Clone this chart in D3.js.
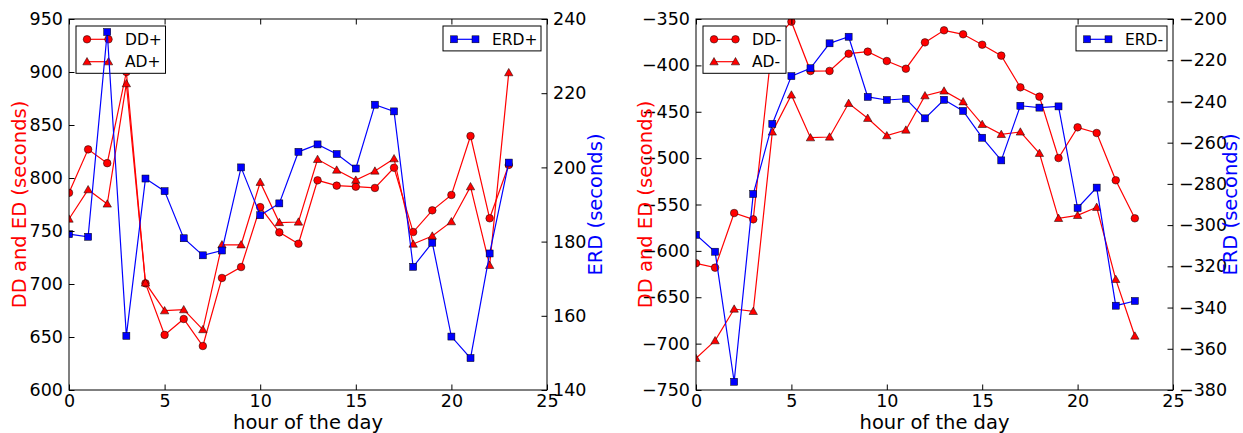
<!DOCTYPE html>
<html><head><meta charset="utf-8">
<script src="https://cdn.jsdelivr.net/npm/d3@7"></script>
<style>body{margin:0;background:#fff}svg{display:block}text{font-family:"DejaVu Sans",sans-serif}</style>
</head><body>
<svg id="c" width="1243" height="433"></svg>
<script>
const hours = [0,1,2,3,4,5,6,7,8,9,10,11,12,13,14,15,16,17,18,19,20,21,22,23];
const ddPlus  = [786,827,814,900,700.6,652,667,641.5,705.7,716,772.5,748.7,738,797.8,792.8,791.8,790.6,809.7,749,769.5,784,839.6,762,812.3];
const adPlus  = [761.3,789,775.5,889,701,674.8,675.8,657,737,737,796,758,758.5,817.6,807.5,798,806.6,818.2,737.7,745.3,758.8,791.8,717.6,899.4];
const erdPlus = [182,181.3,236.5,154.6,197,193.6,180.9,176.3,177.6,200,187.1,190.3,204.2,206.2,203.6,199.7,216.9,215.1,173.2,179.7,154.4,148.6,176.8,201.3];
const ddMinus  = [-613.4,-618.1,-559.2,-566,-375,-352.9,-406.1,-406,-387.4,-385.2,-395.3,-403.6,-375.2,-362.2,-366.5,-377.7,-389.5,-423.7,-433.7,-499.9,-466.8,-472.9,-523.9,-564.9];
const adMinus  = [-715.9,-696.8,-662.7,-665.2,-471.8,-431.9,-478,-477.2,-440.9,-457,-475.8,-469.7,-432.7,-427.6,-439.2,-463.6,-474.4,-471.8,-494.8,-564.9,-561.7,-553,-630.7,-691.8];
const erdMinus = [-304.7,-312.9,-376,-284.9,-250.9,-227.7,-223.9,-211.8,-208.6,-237.8,-239.3,-238.7,-248.2,-239.2,-244.6,-257.6,-268.6,-242.1,-243,-242.4,-291.7,-281.8,-339.1,-336.8];
const xTicks = [0,5,10,15,20,25];
const leftTicksA = [600,650,700,750,800,850,900,950];
const rightTicksA = [140,160,180,200,220,240];
const leftTicksB = [-750,-700,-650,-600,-550,-500,-450,-400,-350];
const rightTicksB = [-380,-360,-340,-320,-300,-280,-260,-240,-220,-200];
const xLabel = "hour of the day";
const yLabelL = "DD and ED (seconds)";
const yLabelR = "ERD (seconds)";

const svg = d3.select("#c");
const RED = "#ff0000", BLUE = "#0000ff";

function marker(g, type, x, y, color){
  if(type==="circle"){
    g.append("circle").attr("cx",x).attr("cy",y).attr("r",3.8)
      .attr("fill",color).attr("stroke","#000").attr("stroke-width",0.5);
  } else if(type==="square"){
    g.append("rect").attr("x",x-3.5).attr("y",y-3.5).attr("width",7).attr("height",7)
      .attr("fill",color).attr("stroke","#000").attr("stroke-width",0.5);
  } else {
    const s=4.2;
    g.append("path").attr("d",`M${x},${y-s}L${x+s},${y+s*0.75}L${x-s},${y+s*0.75}Z`)
      .attr("fill",color).attr("stroke","#000").attr("stroke-width",0.5);
  }
}

function series(g, x, y, vals, type, color){
  const line = d3.line().x((d,i)=>x(hours[i])).y(d=>y(d));
  g.append("path").attr("d",line(vals)).attr("fill","none").attr("stroke",color).attr("stroke-width",1.2);
  vals.forEach((v,i)=>marker(g,type,x(hours[i]),y(v),color));
}

function legend(g, x0, y0, w, entries){
  const h = entries.length*22.4+2.5;
  g.append("rect").attr("x",x0).attr("y",y0).attr("width",w).attr("height",h)
    .attr("fill","#fff").attr("stroke","#000").attr("stroke-width",1);
  entries.forEach((e,k)=>{
    const cy = y0+13.3+k*22.4;
    g.append("line").attr("x1",x0+11).attr("x2",x0+32.5).attr("y1",cy).attr("y2",cy)
      .attr("stroke",e.color).attr("stroke-width",1.2);
    marker(g,e.type,x0+11,cy,e.color);
    marker(g,e.type,x0+32.5,cy,e.color);
    g.append("text").attr("x",x0+49).attr("y",cy).attr("dy","0.36em")
      .attr("font-size",15.5).text(e.label);
  });
}

function panel(id, px0, px1, ldom, lticks, rdom, rticks, dd, ad, erd, names, rLabelX, lLabelX){
  const py0=19, py1=390;
  const x = d3.scaleLinear().domain([0,25]).range([px0,px1]);
  const yl = d3.scaleLinear().domain(ldom).range([py1,py0]);
  const yr = d3.scaleLinear().domain(rdom).range([py1,py0]);
  const fmt = d3.format("d");
  const clip = svg.append("clipPath").attr("id","clip"+id);
  clip.append("rect").attr("x",px0).attr("y",py0).attr("width",px1-px0).attr("height",py1-py0);

  const g1 = svg.append("g").attr("clip-path",`url(#clip${id})`);
  series(g1,x,yl,dd,"circle",RED);
  series(g1,x,yl,ad,"triangle",RED);
  legend(svg.append("g"), px0+7, 26, names[0]==="DD+"?89.5:83, [
    {label:names[0],type:"circle",color:RED},
    {label:names[1],type:"triangle",color:RED}]);
  const g2 = svg.append("g").attr("clip-path",`url(#clip${id})`);
  series(g2,x,yr,erd,"square",BLUE);
  const lw = names[2]==="ERD+"?98:91;
  legend(svg.append("g"), px1-6-lw, 26, lw, [{label:names[2],type:"square",color:BLUE}]);

  const axB = d3.axisBottom(x).tickValues(xTicks).tickSizeInner(-5.5).tickSizeOuter(0).tickPadding(3).tickFormat(fmt);
  const axT = d3.axisTop(x).tickValues(xTicks).tickSizeInner(-5.5).tickSizeOuter(0).tickFormat("");
  const axL = d3.axisLeft(yl).tickValues(lticks).tickSizeInner(-5.5).tickSizeOuter(0).tickPadding(6).tickFormat(fmt);
  const axR = d3.axisRight(yr).tickValues(rticks).tickSizeInner(-5.5).tickSizeOuter(0).tickPadding(6).tickFormat(fmt);
  const style = a => { a.select(".domain").remove(); a.selectAll("text").attr("font-size",17.5).attr("fill","#000").style("font-family","DejaVu Sans"); a.selectAll("line").attr("stroke","#000"); };
  svg.append("g").attr("transform",`translate(0,${py1})`).call(axB).call(style).selectAll("text").attr("dy","0.8em");
  svg.append("g").attr("transform",`translate(0,${py0})`).call(axT).call(style);
  svg.append("g").attr("transform",`translate(${px0},0)`).call(axL).call(style);
  svg.append("g").attr("transform",`translate(${px1},0)`).call(axR).call(style);

  svg.append("rect").attr("x",px0).attr("y",py0).attr("width",px1-px0).attr("height",py1-py0)
    .attr("fill","none").attr("stroke","#000").attr("stroke-width",1);

  svg.append("text").attr("x",(px0+px1)/2).attr("y",428.5).attr("text-anchor","middle")
    .attr("font-size",19.5).text(xLabel);
  svg.append("text").attr("transform",`translate(${lLabelX},${(py0+py1)/2}) rotate(-90)`)
    .attr("text-anchor","middle").attr("dy","0.36em").attr("font-size",19.5).attr("fill",RED).text(yLabelL);
  svg.append("text").attr("transform",`translate(${rLabelX},${(py0+py1)/2}) rotate(-90)`)
    .attr("text-anchor","middle").attr("dy","0.36em").attr("font-size",19.5).attr("fill",BLUE).text(yLabelR);
}

panel("A",69,547,[600,950],leftTicksA,[140,240],rightTicksA,ddPlus,adPlus,erdPlus,["DD+","AD+","ERD+"],595,19);
panel("B",696,1173,[-750,-350],leftTicksB,[-380,-200],rightTicksB,ddMinus,adMinus,erdMinus,["DD-","AD-","ERD-"],1230,645);
</script>
</body></html>
